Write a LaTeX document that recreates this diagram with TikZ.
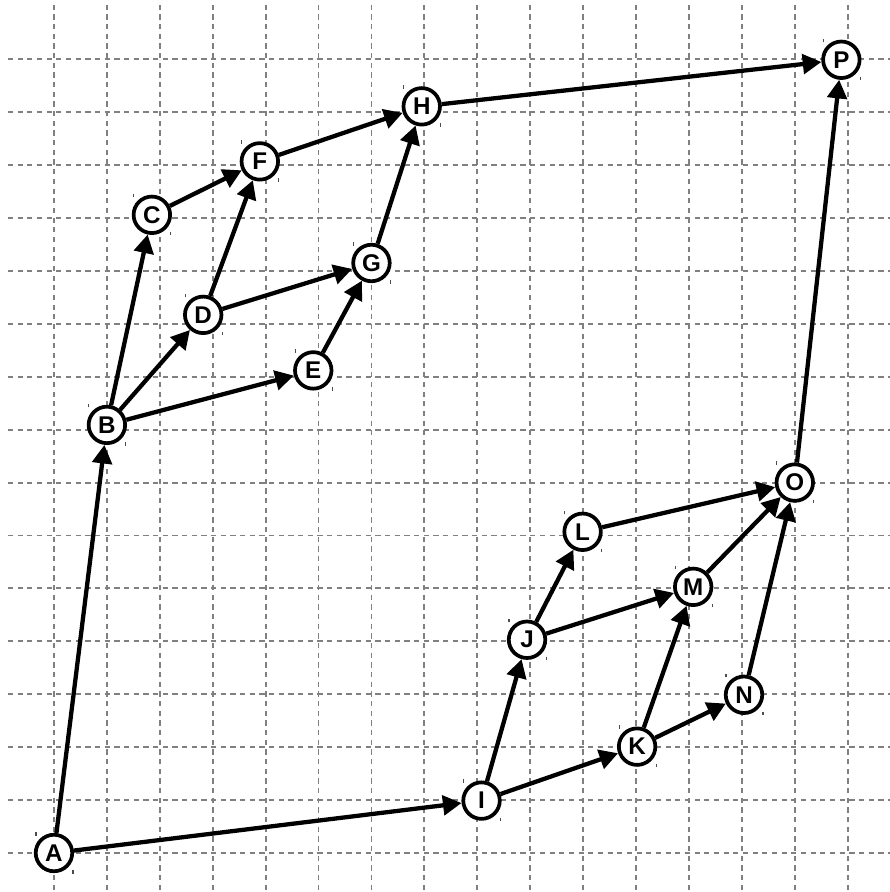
\documentclass[tikz,border=0pt]{standalone}
\usepackage{fontspec}
\setmainfont{Liberation Sans}
\usetikzlibrary{arrows.meta}
\begin{document}
\begin{tikzpicture}[x=1cm,y=1cm,
  gridline/.style={draw=black!50,line width=1pt,dash pattern=on 2.8pt off 2.4pt},
  vtx/.style={circle,draw=black,line width=2pt,fill=white,minimum size=0.69cm,inner sep=0pt,
    font=\fontsize{13}{15}\selectfont\bfseries},
  edge/.style={draw=black,line width=2.3pt,-{Triangle[length=10pt,width=10.5pt]}},
  tick/.style={draw=black!70,line width=0.6pt}]
\useasboundingbox (-1.02,-0.737) rectangle (15.79,16.12);
% grid
\foreach \i in {0,...,15} {
  \draw[gridline] (-0.87,\i) -- (15.79,\i);
  \draw[gridline] (\i,16.03) -- (\i,-0.737);
}
% nodes
\node[vtx] (A) at (0,0) {A};
\node[vtx] (B) at (1.0,8.09) {B};
\node[vtx] (C) at (1.85,12.06) {C};
\node[vtx] (D) at (2.82,10.17) {D};
\node[vtx] (E) at (4.90,9.12) {E};
\node[vtx] (F) at (3.89,13.07) {F};
\node[vtx] (G) at (6.0,11.15) {G};
\node[vtx] (H) at (6.95,14.11) {H};
\node[vtx] (I) at (8.08,0.99) {I};
\node[vtx] (J) at (8.94,4.03) {J};
\node[vtx] (K) at (11.02,2.01) {K};
\node[vtx] (L) at (9.99,6.07) {L};
\node[vtx] (M) at (12.08,5.03) {M};
\node[vtx] (N) at (13.04,2.99) {N};
\node[vtx] (O) at (14.0,7.0) {O};
\node[vtx] (P) at (14.88,14.99) {P};
% ticks
\foreach \n in {A,B,C,D,E,F,G,H,I,J,K,L,M,N,O,P} {
  \draw[tick] ([shift={(-0.34,0.33)}]\n.center) -- ++(0,0.07);
  \draw[tick] ([shift={(0.36,-0.32)}]\n.center) -- ++(0,-0.07);
}
% edges
\draw[edge] (A) -- (B);
\draw[edge] (A) -- (I);
\draw[edge] (B) -- (C);
\draw[edge] (B) -- (D);
\draw[edge] (B) -- (E);
\draw[edge] (C) -- (F);
\draw[edge] (D) -- (F);
\draw[edge] (D) -- (G);
\draw[edge] (E) -- (G);
\draw[edge] (F) -- (H);
\draw[edge] (G) -- (H);
\draw[edge] (H) -- (P);
\draw[edge] (I) -- (J);
\draw[edge] (I) -- (K);
\draw[edge] (J) -- (L);
\draw[edge] (J) -- (M);
\draw[edge] (K) -- (M);
\draw[edge] (K) -- (N);
\draw[edge] (L) -- (O);
\draw[edge] (M) -- (O);
\draw[edge] (N) -- (O);
\draw[edge] (O) -- (P);
\end{tikzpicture}
\end{document}
